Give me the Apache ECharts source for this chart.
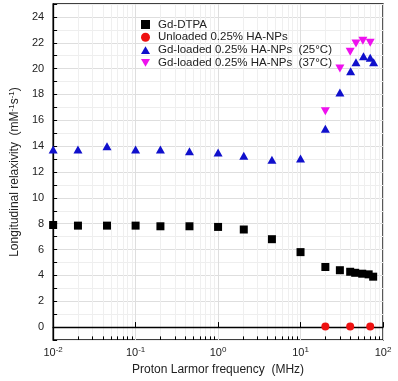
<!DOCTYPE html>
<html>
<head>
<meta charset="utf-8">
<script src="https://cdn.jsdelivr.net/npm/echarts@6/dist/echarts.min.js"></script>
<style>
html, body { margin: 0; padding: 0; background: #fff; }
#relaxivityChart { width: 398px; height: 381px; }
</style>
</head>
<body>
<div id="relaxivityChart"></div>
<script>
// frequency (MHz) and relaxivity (mM-1 s-1)
var dtpaFreq = [0.01, 0.02, 0.045, 0.1, 0.2, 0.45, 1, 2.05, 4.5, 10, 20, 30, 40, 46, 56, 67, 76];
var dtpaR1 = [7.9, 7.85, 7.85, 7.85, 7.8, 7.8, 7.75, 7.55, 6.8, 5.8, 4.65, 4.4, 4.28, 4.2, 4.13, 4.08, 3.9];

var unloadedFreq = [20, 40, 70];
var unloadedR1 = [0.05, 0.05, 0.05];

var loaded25Freq = [0.01, 0.02, 0.045, 0.1, 0.2, 0.45, 1, 2.05, 4.5, 10, 20, 30, 40.5, 47, 58, 70, 77];
var loaded25R1 = [13.75, 13.75, 14.0, 13.75, 13.75, 13.6, 13.5, 13.25, 12.95, 13.05, 15.35, 18.15, 19.8, 20.5, 20.95, 20.85, 20.5];

var loaded37Freq = [20, 30, 40, 47, 57, 70];
var loaded37R1 = [16.7, 20.0, 21.3, 21.95, 22.15, 22.0];

var seriesNames = ['Gd-DTPA', 'Unloaded 0.25% HA-NPs', 'Gd-loaded 0.25% HA-NPs  (25°C)', 'Gd-loaded 0.25% HA-NPs  (37°C)'];
var minorFreqTicks = [];
[0.01, 0.1, 1, 10].forEach(function (d) {
	for (var k = 2; k <= 9; k++) { minorFreqTicks.push(+(k * d).toPrecision(3)); }
});

var relaxivityChart = {
	/**
	 * 把两个数组拼成散点数据
	 */
	pairUp : function (xs, ys) {
		var out = [];
		for (var i = 0; i < xs.length; i++) {
			out.push([xs[i], ys[i]]);
		}
		return out;
	},

	showChart : function () {
		var myChart = echarts.init(document.getElementById('relaxivityChart'));
		var invTriangle = 'path://M0,0 L10,0 L5,8.7 Z';
		var upTriangle = 'path://M5,0 L10,8.7 L0,8.7 Z';
		var font = 'Liberation Sans, Arial, sans-serif';

		// 次刻度网格线和刻度
		var minorLines = [];
		var minorTicks = [];
		minorFreqTicks.forEach(function (v) {
			minorLines.push({ xAxis: v });
			minorTicks.push([{ coord: [v, -1] }, { coord: [v, -0.72] }]);
		});

		var option = {
			animation: false,
			grid: {
				left: 46, right: 15, top: 4, bottom: 40,
				show: true, borderColor: '#000', borderWidth: 1.3
			},
			legend: {
				orient: 'vertical',
				left: 141, top: 18.5, padding: 0,
				itemWidth: 9, itemHeight: 9, itemGap: 0.8,
				textStyle: { fontFamily: font, fontSize: 11.5, lineHeight: 12, color: '#222', padding: [0, 0, 0, 3] },
				data: [
					{ name: seriesNames[0], icon: 'rect' },
					{ name: seriesNames[1], icon: 'circle' },
					{ name: seriesNames[2], icon: upTriangle },
					{ name: seriesNames[3], icon: invTriangle }
				]
			},
			xAxis: {
				type: 'log', logBase: 10, min: 0.01, max: 100,
				name: 'Proton Larmor frequency  (MHz)',
				nameLocation: 'middle', nameGap: 24,
				nameTextStyle: { fontFamily: font, fontSize: 12, color: '#222' },
				axisLine: { lineStyle: { color: '#000', width: 1.3 } },
				axisTick: { inside: true, length: 5, lineStyle: { color: '#000' } },
				splitLine: { show: true, lineStyle: { color: '#dedede', width: 1 } },
				axisLabel: {
					margin: 6,
					fontFamily: font, fontSize: 11, color: '#222',
					formatter: function (v) {
						var e = Math.round(Math.log(v) / Math.LN10);
						return '10{sup|' + e + '}';
					},
					rich: { sup: { fontFamily: font, fontSize: 8, color: '#222', padding: [0, 0, 6, 0] } }
				}
			},
			yAxis: {
				type: 'value', min: -1, max: 25, interval: 1,
				name: 'Longitudinal relaxivity  (mM{sup|-1}s{sup|-1})',
				nameLocation: 'middle', nameGap: 29,
				nameTextStyle: {
					fontFamily: font, fontSize: 12, color: '#222',
					rich: { sup: { fontFamily: font, fontSize: 8, color: '#222', padding: [0, 0, 6, 0] } }
				},
				axisLine: { lineStyle: { color: '#000', width: 1.3 } },
				axisTick: { inside: true, length: 4, lineStyle: { color: '#000' } },
				splitLine: { show: true, lineStyle: { color: ['#eeeeee', '#dedede'], width: 1 } },
				axisLabel: {
					margin: 9,
					fontFamily: font, fontSize: 11, color: '#222',
					formatter: function (v) {
						return (v >= 0 && v % 2 === 0) ? String(v) : '';
					}
				}
			},
			series: [
				{
					name: seriesNames[0], type: 'scatter',
					symbol: 'rect', symbolSize: 8,
					itemStyle: { color: '#000', opacity: 1 },
					data: relaxivityChart.pairUp(dtpaFreq, dtpaR1),
					markLine: {
						silent: true, symbol: 'none', animation: false,
						label: { show: false },
						lineStyle: { color: '#efefef', width: 1, type: 'solid' },
						data: minorLines,
						z: 0
					},
					z: 3
				},
				{
					name: seriesNames[1], type: 'scatter',
					symbol: 'circle', symbolSize: 8,
					itemStyle: { color: '#ee1111', opacity: 1 },
					data: relaxivityChart.pairUp(unloadedFreq, unloadedR1),
					markLine: {
						silent: true, symbol: 'none', animation: false,
						label: { show: false },
						lineStyle: { color: '#000', width: 1, type: 'solid' },
						data: minorTicks
					},
					z: 3
				},
				{
					name: seriesNames[2], type: 'scatter',
					symbol: upTriangle, symbolSize: [9, 8],
					itemStyle: { color: '#1010cc', opacity: 1 },
					data: relaxivityChart.pairUp(loaded25Freq, loaded25R1),
					z: 3
				},
				{
					name: seriesNames[3], type: 'scatter',
					symbol: invTriangle, symbolSize: [9, 8],
					itemStyle: { color: '#ee11ee', opacity: 1 },
					data: relaxivityChart.pairUp(loaded37Freq, loaded37R1),
					z: 4
				}
			]
		};
		myChart.setOption(option);
	}
};

relaxivityChart.showChart();
</script>
</body>
</html>
